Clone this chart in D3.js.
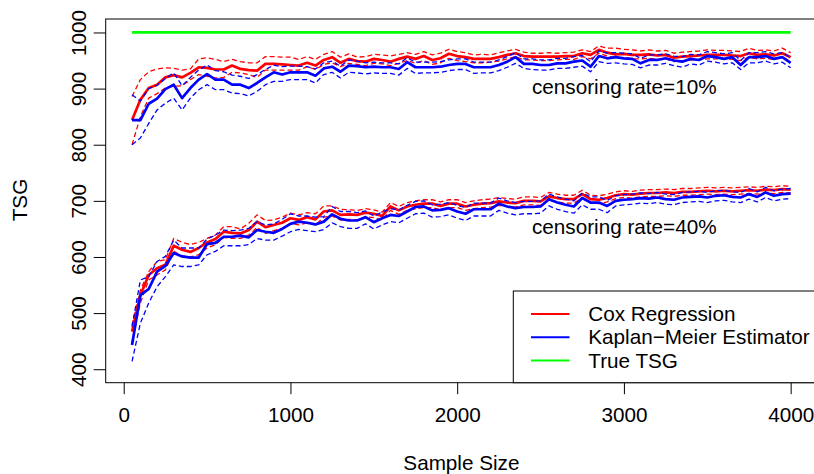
<!DOCTYPE html>
<html>
<head>
<meta charset="utf-8">
<script src="https://cdn.jsdelivr.net/npm/d3@7"></script>
<style>
  html, body { margin: 0; padding: 0; background: #fff; }
  svg { display: block; }
  text { font-family: "Liberation Sans", Arial, Helvetica, sans-serif; fill: #000; }
</style>
</head>
<body>
<svg id="chart" width="814" height="474"></svg>
<script>
// ---------------- data ----------------
const sampleSizes = [50,100,150,200,250,300,350,400,450,500,550,600,650,700,750,800,850,900,950,1000,
  1050,1100,1150,1200,1250,1300,1350,1400,1450,1500,1550,1600,1650,1700,1750,1800,1850,1900,1950,2000,
  2050,2100,2150,2200,2250,2300,2350,2400,2450,2500,2550,2600,2650,2700,2750,2800,2850,2900,2950,3000,
  3050,3100,3150,3200,3250,3300,3350,3400,3450,3500,3550,3600,3650,3700,3750,3800,3850,3900,3950,4000];

// censoring rate = 10%
const cox10 = [844,880,901,907,920,924,920,928,938,937,934,934,941,935,933,932,944,944,943,942,941,946,941,951,956,946,953,949,
  948,953,951,948,953,957,953,958,951,954,962,958,956,953,953,953,956,960,963,958,957,957,957,957,958,958,963,960,969,964,
  961,962,960,960,961,959,960,955,957,958,959,960,960,960,959,958,963,960,961,959,963,956];
const cox10Upper = [886,916,930,935,937,936,933,935,953,955,952,948,952,948,946,946,957,957,956,956,952,957,952,961,966,956,962,956,
  957,961,960,958,961,964,961,966,960,963,970,966,964,960,961,960,964,967,970,965,963,963,964,963,964,965,969,966,976,972,
  972,970,969,967,969,967,968,963,965,966,967,969,968,968,967,966,972,968,969,967,972,964];
const cox10Lower = [800,850,883,891,901,904,905,916,925,922,919,920,929,928,925,920,933,933,933,933,933,939,934,943,946,939,945,943,
  941,945,944,941,945,950,945,950,943,946,954,950,948,946,946,947,949,953,957,951,951,950,950,951,952,952,957,953,963,958,
  955,955,953,953,954,952,953,948,950,951,952,953,953,953,952,950,956,953,954,952,956,949];
const km10 = [844,844,873,882,899,907,883,901,916,926,916,916,907,907,901,910,920,929,925,929,929,929,923,936,939,930,941,940,
  938,939,938,938,935,947,938,938,938,939,942,944,944,938,938,938,942,948,956,944,944,942,942,945,945,948,950,939,958,954,
  956,954,953,945,951,951,954,950,948,953,951,958,956,953,956,942,956,956,958,953,956,946];
const km10Upper = [889,878,900,906,918,928,905,920,933,942,932,930,924,922,918,925,934,942,939,940,940,939,935,946,949,940,951,949,
  946,947,946,946,944,955,947,947,947,948,951,953,953,947,947,947,951,957,964,953,953,951,951,954,954,957,959,948,967,963,
  964,963,962,954,960,960,962,958,957,961,960,966,964,962,964,950,964,964,966,962,964,955];
const km10Lower = [800,812,838,862,874,883,862,883,898,907,898,898,892,891,887,895,907,913,913,916,916,916,910,925,929,919,929,928,
  926,928,927,927,924,936,927,928,928,929,932,934,934,927,928,928,932,938,945,936,934,933,933,936,936,938,940,930,948,945,
  946,944,943,937,942,942,945,941,938,944,942,949,947,944,946,934,946,946,949,944,947,937];

// censoring rate = 40%
const cox40 = [467,532,568,580,586,620,613,609,616,626,632,645,643,642,648,663,653,657,661,669,666,671,667,681,683,675,676,675,
  679,677,673,690,683,690,693,695,695,691,695,695,690,693,695,696,699,697,696,700,700,699,708,705,703,703,712,703,702,705,
  710,712,711,713,714,714,715,714,716,716,717,718,717,718,717,718,719,718,720,719,721,720];
const cox40Upper = [479,541,574,592,595,633,626,622,626,633,639,654,654,650,660,675,665,666,671,678,675,679,677,691,691,685,684,683,
  686,684,680,697,690,697,700,702,702,698,702,702,697,700,702,703,706,704,703,707,707,706,715,712,710,710,719,710,709,712,
  716,718,717,719,720,720,721,720,722,722,723,724,723,724,723,724,725,724,726,725,727,726];
const cox40Lower = [449,518,559,568,577,610,602,600,604,616,622,635,633,633,639,653,642,647,651,660,657,661,657,671,673,666,667,666,
  672,670,666,683,676,683,686,688,688,684,688,688,683,686,688,689,692,690,689,693,693,692,701,698,696,696,705,696,695,698,
  704,706,705,707,708,708,709,708,710,710,711,712,711,712,711,712,713,712,714,713,715,714];
const km40 = [443,532,543,574,584,607,601,599,599,623,625,636,636,638,635,648,645,643,650,659,663,661,658,663,676,668,665,665,
  671,662,669,675,673,681,689,690,683,684,687,681,677,685,685,685,695,690,687,689,689,690,703,697,693,690,705,697,697,691,
  700,702,703,705,704,706,703,702,706,707,708,706,709,710,707,706,712,707,715,709,712,713];
const km40Upper = [476,559,565,592,601,630,616,616,616,632,639,648,647,648,651,663,657,659,667,677,673,673,671,672,690,681,681,679,
  682,673,680,686,684,692,699,700,693,694,697,692,688,696,696,696,705,700,697,699,699,700,712,707,703,700,714,707,707,701,
  709,711,712,714,713,715,712,711,715,716,717,715,718,719,716,715,722,716,724,718,721,722];
const km40Lower = [414,482,518,547,565,586,583,583,586,604,610,620,620,620,622,633,630,630,637,645,649,647,645,649,661,654,651,651,
  659,650,657,663,661,669,677,678,671,672,675,669,665,673,673,673,683,678,675,677,677,678,691,685,681,678,693,685,685,679,
  691,693,694,696,695,697,694,693,697,698,699,697,700,701,698,697,703,698,706,700,703,704];

const trueTSG = [1000, 1000];
const trueX = [50, 4000];

const xTicks = [0, 1000, 2000, 3000, 4000];
const yTicks = [400, 500, 600, 700, 800, 900, 1000];
const legendLabels = ["Cox Regression", "Kaplan\u2212Meier Estimator", "True TSG"];
const legendColors = ["#ff0000", "#0000ff", "#00ff00"];
const annotations = ["censoring rate=10%", "censoring rate=40%"];

// ---------------- layout ----------------
const svg = d3.select("#chart");
const FS = 20.7;
const FONT = '"Liberation Sans", Arial, sans-serif';
const x = d3.scaleLinear().domain([-108, 4158]).range([105.7, 817]);
const y = d3.scaleLinear().domain([376, 1024]).range([382.7, 19]);

// box
svg.append("rect")
  .attr("x", x.range()[0]).attr("y", y.range()[1])
  .attr("width", x.range()[1] - x.range()[0]).attr("height", y.range()[0] - y.range()[1])
  .attr("fill", "none").attr("stroke", "#000").attr("stroke-width", 1);

// x axis
const gx = svg.append("g").attr("transform", `translate(0,${y.range()[0]})`)
  .call(d3.axisBottom(x).tickValues(xTicks).tickSize(11.5).tickFormat(d3.format("d")));
gx.select(".domain").remove();
gx.selectAll(".tick line").attr("stroke", "#000");
gx.selectAll(".tick text").attr("y", 39.3).attr("dy", 0)
  .style("font-size", FS + "px").style("font-family", FONT).attr("fill", "#000");

// y axis
const gy = svg.append("g").attr("transform", `translate(${x.range()[0]},0)`)
  .call(d3.axisLeft(y).tickValues(yTicks).tickSize(12).tickFormat(d3.format("d")));
gy.select(".domain").remove();
gy.selectAll(".tick line").attr("stroke", "#000");
gy.selectAll(".tick text")
  .attr("x", 0).attr("y", -19.7).attr("dy", 0)
  .attr("transform", "rotate(-90)")
  .attr("text-anchor", "middle")
  .style("font-size", FS + "px").style("font-family", FONT).attr("fill", "#000");

// axis titles
svg.append("text").attr("x", 461.4).attr("y", 470).attr("text-anchor", "middle")
  .style("font-size", FS + "px").text("Sample Size");
svg.append("text").attr("transform", "translate(27,200) rotate(-90)").attr("text-anchor", "middle")
  .style("font-size", FS + "px").text("TSG");

// lines
svg.append("defs").append("clipPath").attr("id", "plotclip")
  .append("rect").attr("x", x.range()[0]).attr("y", y.range()[1])
  .attr("width", x.range()[1] - x.range()[0]).attr("height", y.range()[0] - y.range()[1]);
const plot = svg.append("g").attr("clip-path", "url(#plotclip)");

const line = d3.line().x((d, i) => x(sampleSizes[i])).y(d => y(d));

function drawSeries(vals, color, dashed) {
  plot.append("path").datum(vals)
    .attr("d", line)
    .attr("fill", "none")
    .attr("stroke", color)
    .attr("stroke-width", dashed ? 1.3 : 2.7)
    .attr("stroke-dasharray", dashed ? "5,3" : null)
    .attr("stroke-linejoin", "round");
}

[[cox10Upper, cox10Lower, cox10], [cox40Upper, cox40Lower, cox40]].forEach(([u, l, m]) => {
  drawSeries(u, "#ff0000", true);
  drawSeries(l, "#ff0000", true);
  drawSeries(m, "#ff0000", false);
});
[[km10Upper, km10Lower, km10], [km40Upper, km40Lower, km40]].forEach(([u, l, m]) => {
  drawSeries(u, "#0000ff", true);
  drawSeries(l, "#0000ff", true);
  drawSeries(m, "#0000ff", false);
});
plot.append("path").datum(trueTSG)
  .attr("d", d3.line().x((d, i) => x(trueX[i])).y(d => y(d)))
  .attr("fill", "none").attr("stroke", "#00ff00").attr("stroke-width", 2.7);

// annotations
svg.selectAll("text.annot").data(annotations).enter().append("text")
  .attr("class", "annot")
  .attr("x", 532).attr("y", (d, i) => i === 0 ? 94 : 234)
  .style("font-size", FS + "px").text(d => d);

// legend
const lg = svg.append("g");
lg.append("rect").attr("x", 513.3).attr("y", 291).attr("width", 320).attr("height", 382.7 - 291)
  .attr("fill", "#fff").attr("stroke", "#000").attr("stroke-width", 1);
const rowY = [314, 337.3, 360.5];
legendLabels.forEach((lab, i) => {
  lg.append("line").attr("x1", 531).attr("x2", 569.5).attr("y1", rowY[i]).attr("y2", rowY[i])
    .attr("stroke", legendColors[i]).attr("stroke-width", 2);
  lg.append("text").attr("x", 588.3).attr("y", rowY[i] + 7).style("font-size", FS + "px").text(lab);
});
</script>
</body>
</html>
